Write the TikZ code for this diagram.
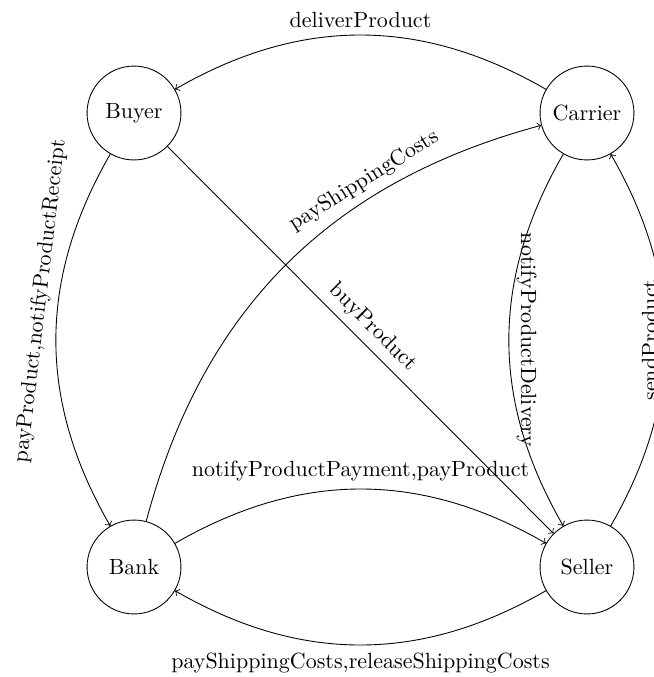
\documentclass[tikz,border=0pt]{standalone}
\usetikzlibrary{arrows}
\begin{document}
\begin{tikzpicture}[x=0.4545pt, y=-0.4545pt,
  party/.style={draw, circle, minimum size=1.5cm, inner sep=0pt},
  msg/.style={->, thin}]
  \useasboundingbox (0,0) rectangle (654,677);
  \clip (0,0) rectangle (654,677);

  % participants
  \node[party] (buyer)   at (134,113) {Buyer};
  \node[party] (carrier) at (587,113) {Carrier};
  \node[party] (bank)    at (134,567) {Bank};
  \node[party] (seller)  at (587,567) {Seller};

  % messages
  \draw[msg] (carrier) to[bend right=30]
    node[midway, above] {deliverProduct} (buyer);
  \draw[msg] (buyer) to[bend right=30]
    node[pos=0.4, sloped, above] {payProduct,notifyProductReceipt} (bank);
  \draw[msg] (buyer) --
    node[midway, sloped, above] {buyProduct} (seller);
  \draw[msg] (bank) to[bend left=30]
    node[pos=0.7, sloped, above] {payShippingCosts} (carrier);
  \draw[msg] (carrier) to[bend right=30]
    node[midway, rotate=-90, anchor=south] {notifyProductDelivery} (seller);
  \draw[msg] (seller) to[bend right=30]
    node[midway, rotate=90, anchor=south] {sendProduct} (carrier);
  \draw[msg] (bank) to[bend left=30]
    node[midway, above] {notifyProductPayment,payProduct} (seller);
  \draw[msg] (seller) to[bend left=30]
    node[midway, below] {payShippingCosts,releaseShippingCosts} (bank);
\end{tikzpicture}
\end{document}
